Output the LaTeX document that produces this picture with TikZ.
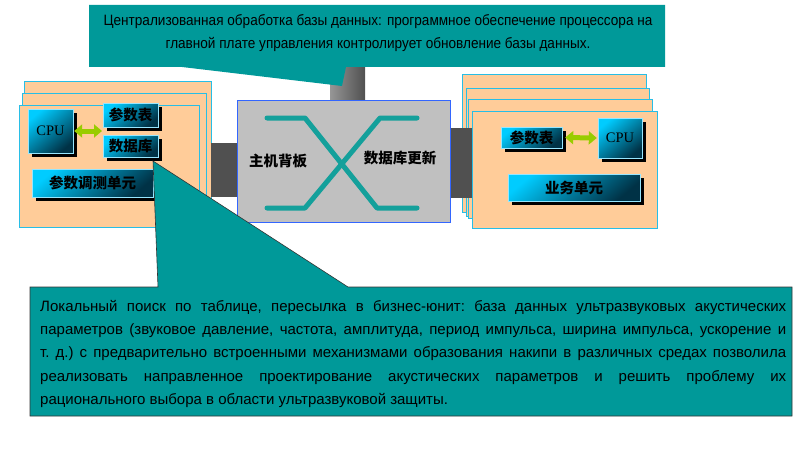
\documentclass[tikz,border=0pt]{standalone}
\usepackage{fontspec}
\setmainfont{Liberation Sans}
\newfontfamily\narrowfont[FakeStretch=0.905]{Liberation Sans}
\newfontfamily\cpufont{Liberation Serif}
\newfontfamily\cjk{Noto Sans CJK SC}
\usetikzlibrary{arrows.meta,shadows}

\definecolor{notefill}{RGB}{0,153,153}
\definecolor{peach}{RGB}{255,204,153}
\definecolor{boardline}{RGB}{40,190,230}
\definecolor{chipcyan}{RGB}{0,204,255}
\definecolor{chipdark}{RGB}{0,50,70}
\definecolor{chipline}{RGB}{150,230,255}
\definecolor{xteal}{RGB}{20,160,155}
\definecolor{linkgreen}{RGB}{153,204,0}
\definecolor{panelgray}{RGB}{192,192,192}
\definecolor{panelblue}{RGB}{51,102,255}
\definecolor{pipedark}{RGB}{80,80,80}
\definecolor{pipelight}{RGB}{150,150,150}

\begin{document}
\begin{tikzpicture}[x=1pt,y=-1pt]
    \tikzstyle{board}=[draw=boardline,fill=peach,line width=0.8pt]
    \tikzstyle{chip}=[draw=chipline,line width=0.4pt,inner sep=0pt,
        top color=chipcyan,middle color=chipcyan!90!chipdark,bottom color=chipdark,shading angle=40,
        general shadow={fill=black,shadow xshift=4pt,shadow yshift=-4pt},
        font=\cjk\bfseries\fontsize{14.5}{16}\selectfont]
    \tikzstyle{cpu}=[chip,font=\cpufont\fontsize{14.5}{16}\selectfont]
    \tikzstyle{link}=[line width=5pt,draw=linkgreen,
        {Triangle[width=13pt,length=8pt]}-{Triangle[width=13pt,length=8pt]}]
    \tikzstyle{pipe}=[top color=pipedark,middle color=pipelight,bottom color=pipedark]
    \tikzstyle{xline}=[draw=xteal,line width=5pt,line cap=round,line join=round]
    \tikzstyle{panellabel}=[font=\cjk\bfseries\fontsize{14.5}{16}\selectfont,inner sep=0pt]
    \useasboundingbox (0,0) rectangle (800,452);

    % left parameter unit (stacked boards)
    \foreach \xa/\ya/\xb in {24/81/211, 22/93/206, 19/105/199}
        \draw[board] (\xa,\ya) rectangle (\xb,227);
    \node[cpu,minimum width=45pt,minimum height=44pt] (lcpu) at (50.5,131) {CPU};
    \node[chip,minimum width=55pt,minimum height=24pt] (ltab) at (130.5,115) {参数表};
    \node[chip,minimum width=55pt,minimum height=22pt] (ldb) at (130.5,146) {数据库};
    \node[chip,minimum width=121pt,minimum height=28pt] (lunit) at (92.5,183) {参数调测单元};
    \coordinate (lgap) at (103,131);
    \draw[link,shorten <=1pt,shorten >=1pt] (lcpu.east) -- (lgap);

    % right business unit (stacked boards)
    \foreach \xa/\ya/\xb/\yb in {462/74/646/212, 466/88/649/216, 468/99/652/218}
        \draw[board] (\xa,\ya) rectangle (\xb,\yb);
    \foreach \ya/\yb in {128/142, 142/155, 155/168, 168/197}
        \shade[pipe] (450,\ya) rectangle (472,\yb);
    \draw[board] (472,111) rectangle (657,228);
    \node[chip,minimum width=61pt,minimum height=21pt] (rtab) at (531.5,137.5) {参数表};
    \node[cpu,minimum width=44pt,minimum height=40pt] (rcpu) at (620,138) {CPU};
    \node[chip,minimum width=132pt,minimum height=27pt] (runit) at (574,187.5) {业务单元};
    \draw[link,shorten <=3pt,shorten >=1pt] (rtab.east) -- (rcpu.west);

    % pipes to the backplane
    \shade[pipe] (211,143) rectangle (237,170);
    \shade[pipe] (211,170) rectangle (237,196);
    \shade[left color=pipelight,right color=pipedark] (330,67) rectangle (365,100);

    % backplane
    \node[draw=panelblue,fill=panelgray,line width=1pt,minimum width=213pt,minimum height=122pt,
        inner sep=0pt] (backplane) at (343.5,161) {};
    \draw[xline] (267,118) -- (305,118) -- (377,208) -- (417,208);
    \draw[xline] (267,208) -- (305,208) -- (380,118) -- (417,118);
    \node[panellabel] (hostlabel) at (278,161) {主机背板};
    \node[panellabel] (updlabel) at (400,158) {数据库更新};

    % callouts
    \fill[notefill] (89,5) -- (665,5) -- (665,67) -- (346,67) -- (342,86) -- (182,67) -- (89,67) -- cycle;
    \node[align=center,inner sep=0pt,font=\narrowfont\fontsize{15}{23}\selectfont] (topnote) at (378,33)
        {Централизованная обработка базы данных: программное обеспечение процессора на\\
         главной плате управления контролирует обновление базы данных.};
    \draw[fill=notefill,draw=black!80,line width=0.6pt]
        (30,287) -- (158,287) -- (153,161) -- (348,287) -- (792,287) -- (792,416) -- (30,416) -- cycle;
    \node[anchor=north west,inner sep=0pt,text width=746pt,align=justify,
        font=\frenchspacing\fontsize{15}{23.25}\selectfont] (bottomnote) at (40,300)
        {Локальный поиск по таблице, пересылка в бизнес-юнит: база данных ультразвуковых акустических\linebreak
         параметров (звуковое давление, частота, амплитуда, период импульса, ширина импульса, ускорение и\linebreak
         т.~д.) с~предварительно встроенными механизмами образования накипи в различных средах позволила\linebreak
         реализовать направленное проектирование акустических параметров и решить проблему их\linebreak
         рационального выбора в области ультразвуковой защиты.};
\end{tikzpicture}
\end{document}
